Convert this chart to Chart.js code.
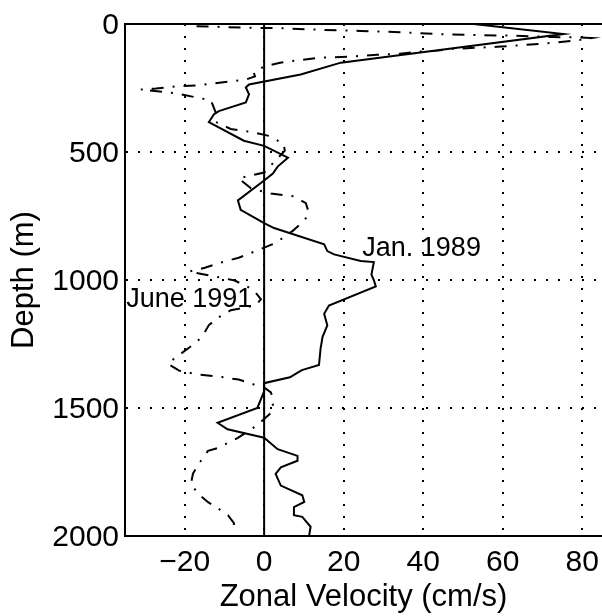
<!DOCTYPE html>
<html><head><meta charset="utf-8">
<script src="https://cdn.jsdelivr.net/npm/chart.js@4"></script>
<style>html,body{margin:0;padding:0;background:#fff;overflow:hidden}</style>
</head><body>
<canvas id="c" width="602" height="616"></canvas>
<script>
// Jan. 1989 profile (solid)
const jan1989Velocity = [52.7, 75.3, 19.3, 9.2, -3.8, -4.6, -3.8, -4.6, -11.4, -12.6, -13.9, -5.1, 0, 6.0, 3.4, 2.2, 0, -6.6, -5.9, 0, 2.5, 15.1, 15.9, 17.6, 24.3, 27.6, 27.0, 27.6, 28.1, 16.3, 15.1, 15.9, 14.7, 14.2, 13.8, 9.5, 7.5, 6.5, 0, 0, -1.7, -11.7, -9.2, 0, 3.4, 8.4, 8.4, 4.2, 2.9, 4.2, 9.6, 10.1, 7.5, 7.5, 9.6, 11.7, 11.3];
const jan1989Depth    = [0, 39, 151, 197, 236, 248, 275, 306, 340, 352, 383, 456, 476, 522, 557, 584, 611, 689, 726, 778, 797, 861, 887, 900, 926, 930, 979, 1000, 1025, 1100, 1132, 1177, 1222, 1268, 1332, 1352, 1371, 1380, 1403, 1435, 1500, 1558, 1583, 1616, 1661, 1687, 1706, 1732, 1757, 1803, 1841, 1867, 1887, 1919, 1925, 1964, 2000];

// June 1991 profile (dash-dot)
const june1991Velocity = [-17, -4.8, 5.3, 14.8, 24.2, 34.2, 44.3, 53.8, 63.4, 72.7, 77.7, 82.3, 79.5, 73.2, 62.6, 58.6, 47.5, 43.5, 38.5, 34.2, 28.4, 22, 13.6, 4, 0, -2.6, -2.3, -4.6, -12.6, -17.2, -22.2, -27.2, -31, -22.2, -13.4, -11.7, -12.1, -8.4, -3.3, 1.2, 4.9, 5.2, 0, -6.4, -3.3, 1.7, 7.5, 10.5, 11.3, 10, 7.2, 2.9, -1.3, -6.4, -10.9, -14.9, -18.9, -13.4, -7.4, -2.8, -0.8, -2.1, -8.4, -11.4, -13.9, -15.6, -17.9, -22.7, -24.2, -21.4, -16.6, -11.6, -6.4, -2.6, 0, 1.7, 2.2, 2.2, 0, -2.1, -6.6, -11.6, -14.1, -15.9, -17.9, -18.4, -16.7, -14.1, -11.6, -9.1, -7.6, -7.6];
const june1991Depth    = [9, 14, 17, 23, 27, 32, 40, 43, 46, 51, 52, 55, 62, 73, 85, 89, 97, 104, 108, 116, 120, 127, 132, 151, 166, 190, 205, 217, 232, 240, 244, 252, 256, 271, 298, 364, 383, 410, 422, 437, 468, 495, 580, 603, 642, 662, 673, 700, 739, 770, 808, 855, 882, 913, 932, 952, 967, 983, 1002, 1037, 1075, 1099, 1118, 1145, 1176, 1222, 1253, 1308, 1327, 1354, 1369, 1377, 1389, 1408, 1420, 1439, 1462, 1513, 1543, 1571, 1617, 1656, 1667, 1706, 1756, 1795, 1834, 1868, 1892, 1919, 1950, 1969];

// zero reference line
const zeroLineVelocity = [0, 0];
const zeroLineDepth = [0, 2000];

// axes
const xTickValues = [-20, 0, 20, 40, 60, 80];
const yTickValues = [0, 500, 1000, 1500, 2000];

// curve labels (anchored in data units)
const curveLabels = ['Jan. 1989', 'June 1991'];
const curveLabelVelocity = [24.7, -34.7];
const curveLabelDepth = [906, 1106];

function pts(xs, ys) { return xs.map((x, i) => ({x: x, y: ys[i]})); }
const FONT = '"Liberation Sans", Arial, Helvetica, sans-serif';

const labelPlugin = {
  id: 'curveLabels',
  afterDatasetsDraw(chart) {
    const {ctx, scales: {x, y}} = chart;
    ctx.save();
    ctx.font = '27px ' + FONT;
    ctx.fillStyle = '#000';
    ctx.textAlign = 'left';
    ctx.textBaseline = 'alphabetic';
    curveLabels.forEach((t, i) => ctx.fillText(t, x.getPixelForValue(curveLabelVelocity[i]), y.getPixelForValue(curveLabelDepth[i])));
    ctx.restore();
  }
};

new Chart(document.getElementById('c'), {
  type: 'scatter',
  data: {datasets: [
    {label: 'Jan. 1989', data: pts(jan1989Velocity, jan1989Depth), showLine: true, borderColor: '#000', borderWidth: 2, pointRadius: 0, tension: 0},
    {label: 'June 1991', data: pts(june1991Velocity, june1991Depth), showLine: true, borderColor: '#000', borderWidth: 2, borderDash: [12, 9, 2, 9], pointRadius: 0, tension: 0},
    {label: 'zero', data: pts(zeroLineVelocity, zeroLineDepth), showLine: true, borderColor: '#000', borderWidth: 2, pointRadius: 0}
  ]},
  options: {
    responsive: false, animation: false, devicePixelRatio: 1,
    layout: {padding: 0},
    plugins: {legend: {display: false}, tooltip: {enabled: false}},
    scales: {
      x: {
        type: 'linear', position: 'bottom', min: -35, max: 85,
        afterBuildTicks: s => { s.ticks = xTickValues.map(v => ({value: v})); },
        afterFit: s => { s.height = 80; s.paddingLeft = 0; s.paddingRight = 0; },
        ticks: {padding: 9, maxRotation: 0, autoSkip: false, color: '#000', font: {family: FONT, size: 30},
                callback: v => v < 0 ? '\u2212' + Math.abs(v) : String(v)},
        grid: {color: '#000', lineWidth: 2, drawTicks: false},
        border: {display: true, color: '#000', width: 2, dash: [2, 10]},
        title: {display: true, text: 'Zonal Velocity (cm/s)', color: '#000', font: {family: FONT, size: 31}, padding: {top: 0, bottom: 0}}
      },
      x2: {
        type: 'linear', position: 'top', min: -35, max: 85, display: true,
        ticks: {display: false}, grid: {display: false, drawTicks: false},
        border: {display: true, color: '#000', width: 2},
        afterFit: s => { s.height = 19; s.paddingLeft = 0; s.paddingRight = 0; }
      },
      y: {
        type: 'linear', position: 'left', reverse: true, min: 0, max: 2000,
        afterBuildTicks: s => { s.ticks = yTickValues.map(v => ({value: v})); },
        afterFit: s => { s.width = 125; },
        ticks: {padding: 6, labelOffset: 2, color: '#000', font: {family: FONT, size: 30}, callback: v => String(v)},
        grid: {color: '#000', lineWidth: 2, drawTicks: false},
        border: {display: true, color: '#000', width: 2, dash: [2, 10]},
        title: {display: true, text: 'Depth (m)', color: '#000', font: {family: FONT, size: 31}, padding: {top: 6, bottom: 0}}
      }
    }
  },
  plugins: [labelPlugin]
});
</script>
</body></html>
